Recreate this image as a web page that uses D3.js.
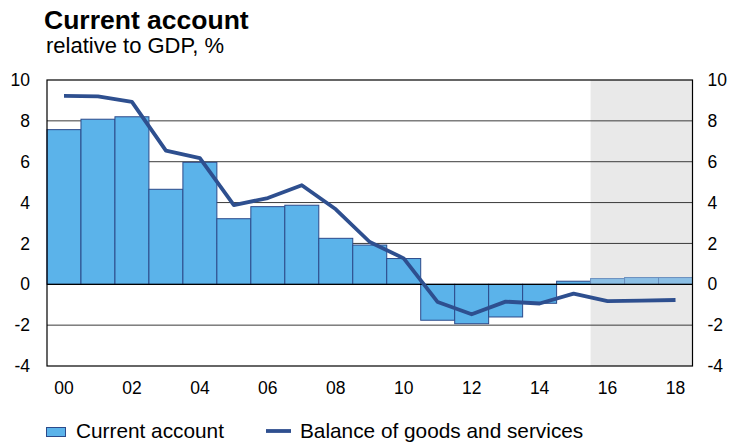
<!DOCTYPE html>
<html>
<head>
<meta charset="utf-8">
<script src="https://cdn.jsdelivr.net/npm/d3@7"></script>
<style>
  body { margin: 0; background: #fff; }
  svg { display: block; font-family: "Liberation Sans", Arial, sans-serif; }
</style>
</head>
<body>
<svg id="chart" width="729" height="442"></svg>
<script>
// Years 2000–2018; 2016 onwards are projections
const years = d3.range(2000, 2019);
const currentAccount = [7.57, 8.08, 8.2, 4.65, 5.97, 3.21, 3.8, 3.87, 2.25, 1.92,
                        1.26, -1.76, -1.93, -1.6, -0.93, 0.15, 0.28, 0.33, 0.33];
const goodsServices = [9.22, 9.2, 8.93, 6.54, 6.18, 3.88, 4.22, 4.85, 3.67, 2.07,
                       1.27, -0.87, -1.47, -0.85, -0.94, -0.46, -0.82, -0.8, -0.77];
const yTicks = [-4, -2, 0, 2, 4, 6, 8, 10];
const xTickYears = [2000, 2002, 2004, 2006, 2008, 2010, 2012, 2014, 2016, 2018];
const forecastStart = 2016;

const svg = d3.select("#chart");
const plotL = 47, plotR = 692.5, plotT = 80, plotB = 366;

const x = d3.scaleBand().domain(years).range([plotL, plotR]).padding(0);
const y = d3.scaleLinear().domain([-4, 10]).range([plotB, plotT]);

// Projection shading
svg.append("rect")
  .attr("x", x(forecastStart)).attr("y", plotT)
  .attr("width", plotR - x(forecastStart)).attr("height", plotB - plotT)
  .attr("fill", "#e9e9e9");

// Horizontal gridlines
svg.append("g").selectAll("line")
  .data(yTicks.filter(d => d !== 0 && d !== -4 && d !== 10))
  .join("line")
  .attr("x1", plotL).attr("x2", plotR)
  .attr("y1", d => y(d)).attr("y2", d => y(d))
  .attr("stroke", "#3a3a3a").attr("stroke-width", 1);

// Current account bars
svg.append("g").selectAll("rect")
  .data(years.map((yr, i) => ({ yr, v: currentAccount[i] })))
  .join("rect")
  .attr("x", d => x(d.yr))
  .attr("width", x.bandwidth())
  .attr("y", d => y(Math.max(0, d.v)))
  .attr("height", d => Math.abs(y(d.v) - y(0)))
  .attr("fill", d => d.yr >= forecastStart ? "#8bbfe5" : "#5bb3ea")
  .attr("stroke", d => d.yr >= forecastStart ? "#6b8fbf" : "#2c4a8a")
  .attr("stroke-width", 1);

// Zero line
svg.append("line")
  .attr("x1", plotL).attr("x2", plotR)
  .attr("y1", y(0)).attr("y2", y(0))
  .attr("stroke", "#000").attr("stroke-width", 1.2);

// Frame
svg.append("rect")
  .attr("x", plotL).attr("y", plotT)
  .attr("width", plotR - plotL).attr("height", plotB - plotT)
  .attr("fill", "none").attr("stroke", "#000").attr("stroke-width", 1.2);

// Balance of goods and services line
const line = d3.line()
  .x((d, i) => x(years[i]) + x.bandwidth() / 2)
  .y(d => y(d));
svg.append("path")
  .datum(goodsServices)
  .attr("d", line)
  .attr("fill", "none")
  .attr("stroke", "#2e4f8f")
  .attr("stroke-width", 3.8)
  .attr("stroke-linejoin", "round");

// Y axes on both sides
const fmt = d => String(d);
const yAxisL = svg.append("g").attr("transform", `translate(${plotL - 17},0)`)
  .call(d3.axisLeft(y).tickValues(yTicks).tickSize(0).tickPadding(0).tickFormat(fmt));
const yAxisR = svg.append("g").attr("transform", `translate(${plotR + 15},0)`)
  .call(d3.axisRight(y).tickValues(yTicks).tickSize(0).tickPadding(0).tickFormat(fmt));
[yAxisL, yAxisR].forEach(g => {
  g.select(".domain").remove();
  g.selectAll("text").attr("font-size", 17.5).attr("fill", "#000")
    .attr("font-family", "'Liberation Sans', Arial, sans-serif");
});

// X axis labels
const xAxis = svg.append("g").attr("transform", `translate(0,${plotB + 16})`)
  .call(d3.axisBottom(x).tickValues(xTickYears).tickSize(0).tickPadding(0)
    .tickFormat(d => String(d).slice(2)));
xAxis.select(".domain").remove();
xAxis.selectAll("text").attr("font-size", 17.5).attr("fill", "#000")
  .attr("font-family", "'Liberation Sans', Arial, sans-serif");

// Titles
svg.append("text").attr("x", 44).attr("y", 29)
  .attr("font-size", 26.5).attr("font-weight", "bold").text("Current account");
svg.append("text").attr("x", 46).attr("y", 53)
  .attr("font-size", 22).text("relative to GDP, %");

// Legend
const lg = svg.append("g");
lg.append("rect").attr("x", 46.5).attr("y", 427.5).attr("width", 19).attr("height", 9)
  .attr("fill", "#5bb3ea").attr("stroke", "#2c4a8a");
lg.append("text").attr("x", 76).attr("y", 437.5).attr("font-size", 20.8).text("Current account");
lg.append("line").attr("x1", 266).attr("x2", 291).attr("y1", 431).attr("y2", 431)
  .attr("stroke", "#2e4f8f").attr("stroke-width", 3.8);
lg.append("text").attr("x", 300).attr("y", 437.5).attr("font-size", 20.8)
  .text("Balance of goods and services");
</script>
</body>
</html>
